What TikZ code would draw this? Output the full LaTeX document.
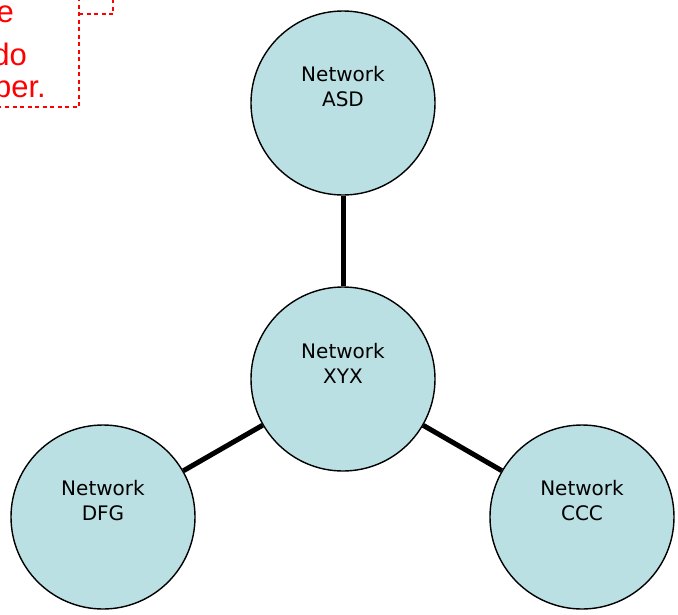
\documentclass[tikz,border=0pt]{standalone}
\usepackage{fontspec}
\setmainfont{DejaVu Sans}
\newfontfamily\notefont{Liberation Sans}
\begin{document}
\begin{tikzpicture}[x=1pt,y=-1pt,
  net/.style={circle, draw=black, line width=1.4pt, fill=netblue,
    minimum size=184pt, inner sep=0pt},
  netlabel/.style={align=center, inner sep=0pt, yshift=16pt,
    font=\fontsize{20}{25}\selectfont},
  link/.style={line width=5pt, draw=black},
  notetext/.style={text=red, font=\notefont\fontsize{31}{37}\selectfont, inner sep=0pt},
  noteline/.style={draw=red, line width=2.4pt, dash pattern=on 4pt off 3.5pt}]
\definecolor{netblue}{HTML}{BBE0E3}
\useasboundingbox (0,0) rectangle (678,614);
\begin{scope}
\clip (0,0) rectangle (678,614);
% callout note, running off the top-left of the page
\node[notetext, anchor=base east] (n1) at (14,22) {e};
\node[notetext, anchor=base east] (n2) at (27,65) {do};
\node[notetext, anchor=base east] (n3) at (46,97) {ber.};
\coordinate (bl) at (-10,107);
\coordinate (br) at (79,107);
\coordinate (tr) at (79,-10);
\coordinate (k1) at (79,14);
\coordinate (k2) at (113,14);
\coordinate (k3) at (113,-10);
\draw[noteline] (bl) -- (br) -- (tr);
\draw[noteline] (k1) -- (k2) -- (k3);
\end{scope}
% networks
\node[net, label={[netlabel]center:Network\\ASD}] (asd) at (343,103) {};
\node[net, label={[netlabel]center:Network\\XYX}] (xyx) at (343,379) {};
\node[net, label={[netlabel]center:Network\\DFG}] (dfg) at (103,517) {};
\node[net, label={[netlabel]center:Network\\CCC}] (ccc) at (582,517) {};
\draw[link] (asd) -- (xyx);
\draw[link] (xyx) -- (dfg);
\draw[link] (xyx) -- (ccc);
\end{tikzpicture}
\end{document}
